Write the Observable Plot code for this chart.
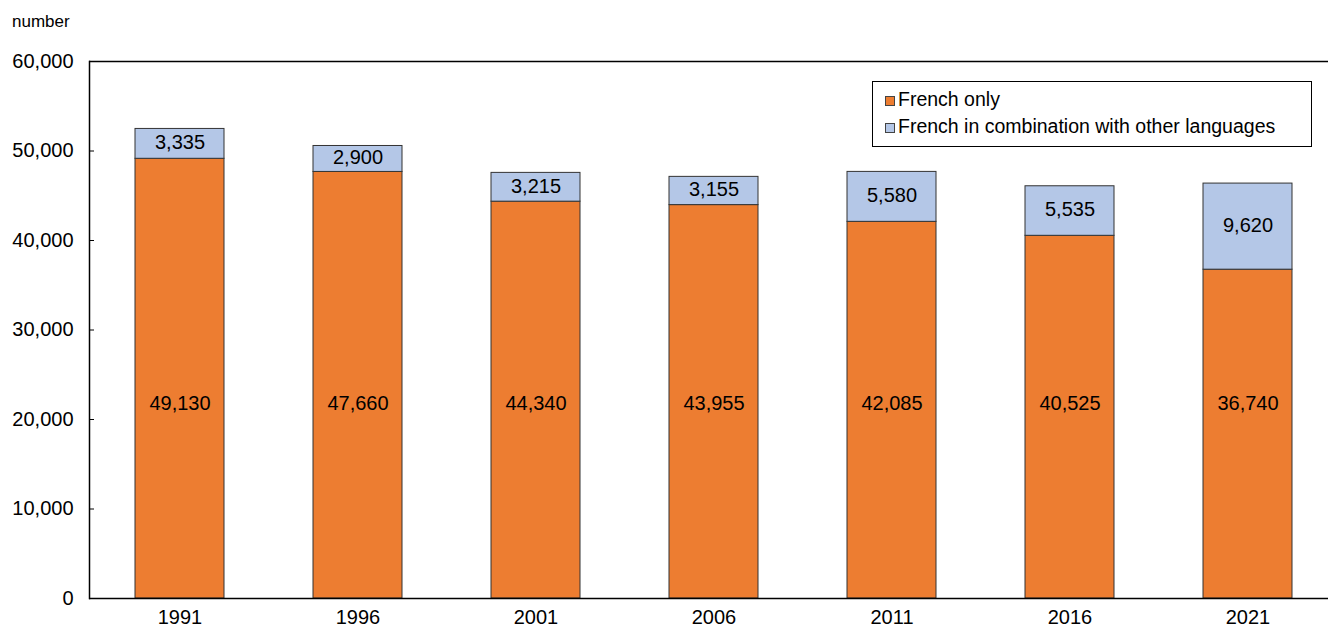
<!DOCTYPE html>
<html>
<head>
<meta charset="utf-8">
<script src="https://cdn.jsdelivr.net/npm/d3@7"></script>
<script src="https://cdn.jsdelivr.net/npm/@observablehq/plot@0.6"></script>
<style>
  html, body { margin: 0; padding: 0; background: #fff; overflow: hidden; }
  #wrap { position: relative; width: 1328px; height: 627px; overflow: hidden; font-family: "Liberation Sans", Arial, sans-serif; color: #000; }
  #unit { position: absolute; left: 12px; top: 12px; font-size: 17px; line-height: 20px; }
  #legend { position: absolute; left: 872px; top: 81px; width: 438px; height: 60px; border: 1.5px solid #000; padding-top: 4px; box-sizing: content-box; font-size: 19.5px; }
  #legend .row { display: flex; align-items: center; height: 27px; padding-left: 12px; }
  #legend .sw { width: 8px; height: 8px; border: 1px solid #444; margin-right: 3px; transform: translateY(1px); }
  #chart { position: absolute; left: 0; top: 0; width: 1338px; }
  #chart svg { max-width: none !important; }
</style>
</head>
<body>
<div id="wrap">
  <div id="chart"></div>
  <div id="unit">number</div>
  <div id="legend"></div>
</div>
<script>
const years = ["1991", "1996", "2001", "2006", "2011", "2016", "2021"];
const frenchOnly = [49130, 47660, 44340, 43955, 42085, 40525, 36740];
const frenchCombo = [3335, 2900, 3215, 3155, 5580, 5535, 9620];
const seriesNames = ["French only", "French in combination with other languages"];
const seriesColors = ["#ED7D31", "#B4C7E7"];
const yTicks = [0, 10000, 20000, 30000, 40000, 50000, 60000];

const rows = [];
years.forEach((yr, i) => {
  rows.push({year: yr, series: seriesNames[0], value: frenchOnly[i], base: 0});
  rows.push({year: yr, series: seriesNames[1], value: frenchCombo[i], base: frenchOnly[i]});
});
const onlyLabelY = d3.mean(frenchOnly) / 2;
const fmt = d3.format(",");

const chart = Plot.plot({
  width: 1338,
  height: 627,
  marginTop: 61,
  marginBottom: 29,
  marginLeft: 89,
  marginRight: 0,
  style: {fontFamily: "'Liberation Sans', Arial, sans-serif", fontSize: "20px", color: "#000", background: "transparent", maxWidth: "none"},
  x: {domain: years, paddingInner: 0.5, paddingOuter: 0.25},
  y: {domain: [0, 60000]},
  color: {domain: seriesNames, range: seriesColors},
  marks: [
    Plot.barY(rows, {x: "year", y: "value", fill: "series", stroke: "#333", strokeWidth: 1, order: seriesNames}),
    Plot.text(rows.filter(d => d.series === seriesNames[0]), {x: "year", y: () => onlyLabelY, text: d => fmt(d.value), fontSize: 20, fill: "#000"}),
    Plot.text(rows.filter(d => d.series === seriesNames[1]), {x: "year", y: d => d.base + d.value / 2, text: d => fmt(d.value), fontSize: 20, fill: "#000", dy: -1}),
    Plot.ruleY([0, 60000], {stroke: "#000", strokeWidth: 1.5}),
    Plot.frame({anchor: "left", stroke: "#000", strokeWidth: 1.5}),
    Plot.axisY({ticks: yTicks, tickFormat: d => fmt(d), tickSize: -5, tickPadding: 21, label: null, fontSize: 20, stroke: "#000"}),
    Plot.axisX({tickSize: 0, tickPadding: 11, label: null, fontSize: 20})
  ]
});
document.getElementById("chart").appendChild(chart);

const legend = document.getElementById("legend");
seriesNames.forEach((name, i) => {
  const row = document.createElement("div");
  row.className = "row";
  const sw = document.createElement("span");
  sw.className = "sw";
  sw.style.background = seriesColors[i];
  const label = document.createElement("span");
  label.textContent = name;
  row.appendChild(sw);
  row.appendChild(label);
  legend.appendChild(row);
});
</script>
</body>
</html>
